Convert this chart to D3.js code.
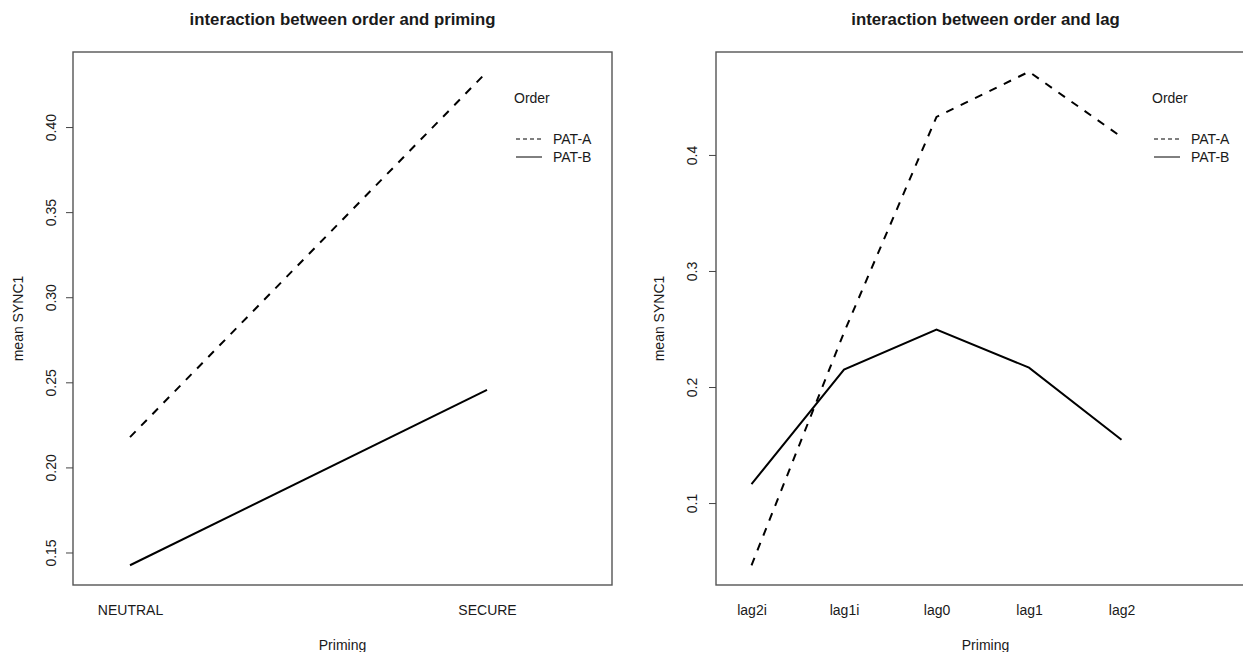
<!DOCTYPE html>
<html>
<head>
<meta charset="utf-8">
<script src="https://cdn.jsdelivr.net/npm/d3@7"></script>
<style>
  html, body { margin: 0; padding: 0; background: #fff; }
  svg { display: block; }
  text { font-family: "Liberation Sans", Arial, sans-serif; fill: #1a1a1a; }
</style>
</head>
<body>
<svg id="chart" width="1243" height="652"></svg>
<script>
// ---- Data ----
const orders = ["PAT-A", "PAT-B"];
const primingLevels = ["NEUTRAL", "SECURE"];
const primingPatA = [0.2178, 0.4325];
const primingPatB = [0.1425, 0.2455];
const primingTicks = [0.15, 0.20, 0.25, 0.30, 0.35, 0.40];
const primingTickLabels = ["0.15", "0.20", "0.25", "0.30", "0.35", "0.40"];

const lagLevels = ["lag2i", "lag1i", "lag0", "lag1", "lag2"];
const lagPatA = [0.0464, 0.247, 0.4328, 0.4717, 0.4155];
const lagPatB = [0.1164, 0.2150, 0.2495, 0.2167, 0.1545];
const lagTicks = [0.1, 0.2, 0.3, 0.4];
const lagTickLabels = ["0.1", "0.2", "0.3", "0.4"];

const FS = 14;
const svg = d3.select("#chart");

function panel(cfg) {
  const g = svg.append("g");
  const all = cfg.seriesA.concat(cfg.seriesB);
  const ext = d3.extent(all);
  const pad = 0.04 * (ext[1] - ext[0]);
  const y = d3.scaleLinear().domain([ext[0] - pad, ext[1] + pad]).range([cfg.bottom, cfg.top]);
  const x = d3.scaleLinear().domain(cfg.xDomain).range([cfg.left, cfg.right]);

  const clipId = "clip" + cfg.id;
  svg.append("clipPath").attr("id", clipId).append("rect")
    .attr("x", cfg.left).attr("y", cfg.top)
    .attr("width", cfg.right - cfg.left).attr("height", cfg.bottom - cfg.top);

  const line = d3.line().x((d, i) => x(i + 1)).y(d => y(d));
  const pg = g.append("g").attr("clip-path", `url(#${clipId})`);
  pg.append("path").datum(cfg.seriesA).attr("d", line)
    .attr("fill", "none").attr("stroke", "#000").attr("stroke-width", 2)
    .attr("stroke-dasharray", "8,8");
  pg.append("path").datum(cfg.seriesB).attr("d", line)
    .attr("fill", "none").attr("stroke", "#000").attr("stroke-width", 2);

  g.append("rect")
    .attr("x", cfg.left).attr("y", cfg.top)
    .attr("width", cfg.right - cfg.left).attr("height", cfg.bottom - cfg.top)
    .attr("fill", "none").attr("stroke", "#555").attr("stroke-width", 1.4);

  const yAxis = d3.axisLeft(y).tickValues(cfg.ticks)
    .tickFormat((d, i) => cfg.tickLabels[i]).tickSize(7).tickPadding(0);
  const ya = g.append("g").attr("transform", `translate(${cfg.left},0)`).call(yAxis);
  ya.select(".domain").remove();
  ya.selectAll(".tick line").attr("stroke", "#444");
  ya.selectAll(".tick text").remove();
  ya.selectAll(".tick").append("text")
    .attr("transform", `translate(${cfg.tickLabelX - cfg.left},0) rotate(-90)`)
    .attr("text-anchor", "middle").attr("dominant-baseline", "central")
    .attr("font-size", FS).text((d, i) => cfg.tickLabels[i]);

  const xa = d3.axisBottom(x).tickValues(cfg.levels.map((d, i) => i + 1))
    .tickFormat((d, i) => cfg.levels[i]).tickSize(0);
  const xg = g.append("g").attr("transform", `translate(0,${cfg.xLabelY})`).call(xa);
  xg.select(".domain").remove();
  xg.selectAll(".tick text").attr("y", 0).attr("dy", "0.35em")
    .attr("font-size", FS).attr("font-family", "Liberation Sans, Arial, sans-serif")
    .attr("fill", "#1a1a1a");

  const cx = (cfg.left + cfg.right) / 2;
  g.append("text").attr("x", cx).attr("y", 19).attr("text-anchor", "middle")
    .attr("dominant-baseline", "central").attr("font-weight", "bold")
    .attr("font-size", 16.8).text(cfg.title);
  g.append("text").attr("x", cx).attr("y", 645).attr("text-anchor", "middle")
    .attr("dominant-baseline", "central").attr("font-size", FS).text("Priming");
  g.append("text")
    .attr("transform", `translate(${cfg.yTitleX},${(cfg.top + cfg.bottom) / 2}) rotate(-90)`)
    .attr("text-anchor", "middle").attr("dominant-baseline", "central")
    .attr("font-size", FS).text("mean SYNC1");

  const L = cfg.legend;
  g.append("text").attr("x", L.x).attr("y", 98).attr("dominant-baseline", "central")
    .attr("font-size", FS).text("Order");
  orders.forEach((o, i) => {
    const yy = 139 + i * 18;
    g.append("line").attr("x1", L.x + 2).attr("x2", L.x + 28).attr("y1", yy).attr("y2", yy)
      .attr("stroke", "#000").attr("stroke-width", 1)
      .attr("stroke-dasharray", i === 0 ? "4,3" : null);
    g.append("text").attr("x", L.x + 39).attr("y", yy).attr("dominant-baseline", "central")
      .attr("font-size", FS).text(o);
  });
}

panel({
  id: "a", title: "interaction between order and priming",
  levels: primingLevels, seriesA: primingPatA, seriesB: primingPatB,
  ticks: primingTicks, tickLabels: primingTickLabels,
  left: 73, right: 612, top: 52, bottom: 585,
  xDomain: [0.8403, 2.3501],
  tickLabelX: 51, yTitleX: 18, xLabelY: 610,
  legend: { x: 514 }
});

panel({
  id: "b", title: "interaction between order and lag",
  levels: lagLevels, seriesA: lagPatA, seriesB: lagPatB,
  ticks: lagTicks, tickLabels: lagTickLabels,
  left: 716, right: 1255, top: 52, bottom: 585,
  xDomain: [0.6162, 6.4432],
  tickLabelX: 692, yTitleX: 659, xLabelY: 610,
  legend: { x: 1152 }
});
</script>
</body>
</html>
